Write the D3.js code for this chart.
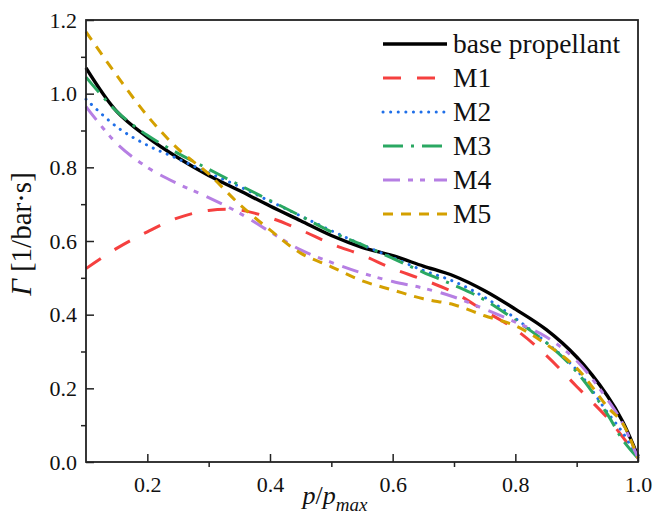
<!DOCTYPE html>
<html>
<head>
<meta charset="utf-8">
<script src="https://cdn.jsdelivr.net/npm/d3@7"></script>
</head>
<body style="margin:0; background:#fff">
<div id="chart"></div>
<script>
var pRatio = [0.1, 0.15, 0.2, 0.25, 0.3, 0.35, 0.4, 0.45, 0.5, 0.55, 0.6, 0.65, 0.7, 0.75, 0.8, 0.85, 0.9, 0.95, 0.975, 1.0];

var basePropellant = [1.07, 0.952, 0.882, 0.826, 0.778, 0.737, 0.695, 0.655, 0.615, 0.583, 0.56, 0.532, 0.505, 0.465, 0.415, 0.36, 0.285, 0.18, 0.11, 0.015];
var m1 = [0.525, 0.58, 0.625, 0.663, 0.683, 0.684, 0.663, 0.63, 0.592, 0.562, 0.525, 0.495, 0.46, 0.41, 0.36, 0.29, 0.205, 0.12, 0.068, 0.01];
var m2 = [0.985, 0.91, 0.86, 0.823, 0.785, 0.748, 0.708, 0.668, 0.628, 0.59, 0.555, 0.52, 0.49, 0.447, 0.39, 0.325, 0.25, 0.135, 0.08, 0.01];
var m3 = [1.045, 0.952, 0.887, 0.838, 0.795, 0.752, 0.71, 0.668, 0.625, 0.59, 0.553, 0.515, 0.48, 0.44, 0.385, 0.325, 0.245, 0.13, 0.06, 0.01];
var m4 = [0.965, 0.865, 0.8, 0.755, 0.718, 0.676, 0.625, 0.576, 0.542, 0.513, 0.49, 0.472, 0.448, 0.415, 0.38, 0.34, 0.275, 0.17, 0.105, 0.01];
var m5 = [1.168, 1.05, 0.94, 0.85, 0.782, 0.7, 0.63, 0.567, 0.53, 0.492, 0.467, 0.443, 0.427, 0.397, 0.37, 0.32, 0.255, 0.15, 0.105, 0.01];

var seriesNames = ["base propellant", "M1", "M2", "M3", "M4", "M5"];
var seriesValues = [basePropellant, m1, m2, m3, m4, m5];

var xTicks = [0.2, 0.4, 0.6, 0.8, 1.0];
var xMinor = [0.3, 0.5, 0.7, 0.9];
var yTicks = [0.0, 0.2, 0.4, 0.6, 0.8, 1.0, 1.2];
var yMinor = [0.1, 0.3, 0.5, 0.7, 0.9, 1.1];

function init() {
    var w = 656, h = 523;
    var left = 86, right = 638, top = 20, bottom = 462;
    var serif = "Liberation Serif";

    var styles = [
        { color: "#000000", dash: null, width: 3.4, cap: "butt" },
        { color: "#f5403f", dash: "18,16", width: 3, cap: "butt" },
        { color: "#1f6fe8", dash: "0.1,7.5", width: 3, cap: "round" },
        { color: "#2aa862", dash: "20,8,3,8", width: 3, cap: "butt" },
        { color: "#b67fe3", dash: "17,8,5,7,5,9", width: 3, cap: "butt" },
        { color: "#d4a000", dash: "10,8", width: 3, cap: "butt" }
    ];

    var xscale = d3.scaleLinear().domain([0.1, 1.0]).range([left, right]);
    var yscale = d3.scaleLinear().domain([0, 1.2]).range([bottom, top]);

    var svg = d3.select("#chart").append("svg")
        .attr("width", w)
        .attr("height", h);

    // curves
    var line = d3.line()
        .x(function(d) { return xscale(d[0]); })
        .y(function(d) { return yscale(d[1]); })
        .curve(d3.curveCatmullRom.alpha(0.5));

    seriesValues.forEach(function(vals, i) {
        var pts = pRatio.map(function(p, j) { return [p, vals[j]]; });
        svg.append("path")
            .attr("d", line(pts))
            .attr("fill", "none")
            .attr("stroke", styles[i].color)
            .attr("stroke-width", styles[i].width)
            .attr("stroke-linecap", styles[i].cap)
            .attr("stroke-dasharray", styles[i].dash);
    });

    // axes: major ticks inward, minor outward
    svg.append("g").attr("transform", "translate(0," + bottom + ")")
        .call(d3.axisBottom(xscale).tickValues(xTicks).tickSize(-8).tickFormat(d3.format(".1f")).tickPadding(14));
    svg.append("g").attr("transform", "translate(0," + bottom + ")")
        .call(d3.axisBottom(xscale).tickValues(xMinor).tickSize(5).tickFormat(""));

    svg.append("g").attr("transform", "translate(" + left + ",0)")
        .call(d3.axisLeft(yscale).tickValues(yTicks).tickSize(-8).tickFormat(d3.format(".1f")).tickPadding(9));
    svg.append("g").attr("transform", "translate(" + left + ",0)")
        .call(d3.axisLeft(yscale).tickValues(yMinor).tickSize(5).tickFormat(""));

    svg.selectAll(".domain").remove();
    svg.selectAll(".tick line").attr("stroke", "#222").attr("stroke-width", 1.5);
    svg.selectAll(".tick text")
        .attr("fill", "#111")
        .style("font-family", serif)
        .style("font-size", "22px");

    // frame
    svg.append("rect")
        .attr("x", left).attr("y", top)
        .attr("width", right - left).attr("height", bottom - top)
        .attr("fill", "none").attr("stroke", "#222").attr("stroke-width", 1.8);

    // legend
    var legend = svg.append("g");
    seriesNames.forEach(function(name, i) {
        var ly = 44 + i * 34;
        legend.append("line")
            .attr("x1", 383).attr("x2", 447)
            .attr("y1", ly).attr("y2", ly)
            .attr("stroke", styles[i].color)
            .attr("stroke-width", styles[i].width)
            .attr("stroke-linecap", styles[i].cap)
            .attr("stroke-dasharray", styles[i].dash);
        legend.append("text")
            .attr("x", 453).attr("y", ly + 9)
            .style("font-family", serif)
            .style("font-size", "27.5px")
            .attr("fill", "#111")
            .text(name);
    });

    // axis titles
    var xt = svg.append("text")
        .attr("x", 335).attr("y", 504)
        .attr("text-anchor", "middle")
        .attr("fill", "#111")
        .style("font-family", serif)
        .style("font-size", "26px");
    xt.append("tspan").style("font-style", "italic").text("p");
    xt.append("tspan").text("/");
    xt.append("tspan").style("font-style", "italic").text("p");
    xt.append("tspan").style("font-style", "italic").style("font-size", "19px").attr("dy", 7).text("max");

    var yt = svg.append("text")
        .attr("transform", "translate(31,234) rotate(-90)")
        .attr("text-anchor", "middle")
        .attr("fill", "#111")
        .style("font-family", serif)
        .style("font-size", "29px");
    yt.append("tspan").style("font-style", "italic").text("Γ");
    yt.append("tspan").text(" [1/bar·s]");
}
window.onload = init;
</script>
</body>
</html>
